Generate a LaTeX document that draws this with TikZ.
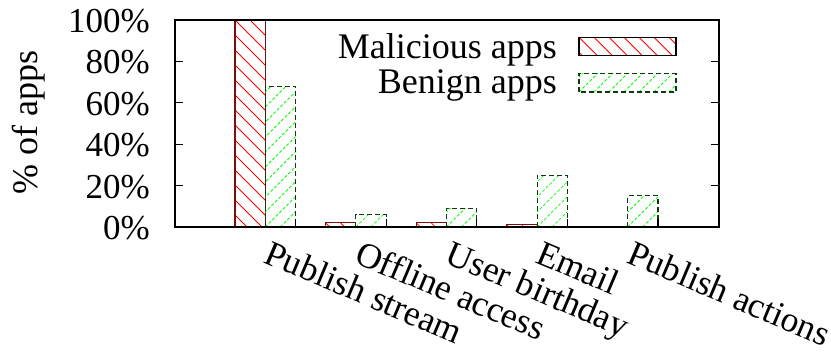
\documentclass[tikz,border=0pt]{standalone}
\usepackage{fontspec}
\setmainfont{Liberation Serif}
\definecolor{malborder}{RGB}{120,16,16}
\definecolor{benborder}{RGB}{12,60,12}
\definecolor{hatchgreen}{RGB}{0,255,0}
\tikzset{
  malhatch/.style={red,line width=0.8pt},
  benhatch/.style={hatchgreen,line width=0.8pt,dash pattern=on 3pt off 2pt},
  malframe/.style={malborder,line width=1.1pt},
  malkey/.style={black,line width=1.1pt},
  benframe/.style={benborder,line width=1.1pt,dash pattern=on 5pt off 3pt},
  axisframe/.style={black,line width=1.4pt},
  tickline/.style={black,line width=1.1pt},
  numlbl/.style={inner sep=0pt,font=\fontsize{35}{40}\selectfont},
  lbl/.style={inner sep=0pt,font=\fontsize{36}{40}\selectfont},
  catlbl/.style={inner sep=0pt,font=\fontsize{35.5}{40}\selectfont,rotate=-23,anchor=base west},
}
\newcommand\malbar[5]{%
  \begin{scope}
    \clip (#1,#2) rectangle (#3,#4);
    \foreach \k in {-15,...,8} \draw[malhatch] ({#1+\k*15},#4) -- ++(250,-250);
  \end{scope}
  \draw[#5] (#1,#2) rectangle (#3,#4);
}
\newcommand\benbar[5]{%
  \begin{scope}
    \clip (#1,#2) rectangle (#3,#4);
    \foreach \k in {-15,...,8} \draw[benhatch] ({#1+\k*15},#2) -- ++(250,250);
  \end{scope}
  \draw[#5] (#1,#2) rectangle (#3,#4);
}
\begin{document}
\begin{tikzpicture}[x=1pt,y=1pt]
\useasboundingbox (0,0) rectangle (831,356);
% bars
\foreach \g/\m/\b in {0/100/68, 1/2/6, 2/2/9, 3/1/25, 4/0/15} {
  \pgfmathsetmacro\xa{235+90.6*\g}
  \pgfmathsetmacro\xb{\xa+30.3}
  \pgfmathsetmacro\xc{\xb+30.3}
  \pgfmathsetmacro\ym{129+2.07*\m}
  \pgfmathsetmacro\yb{129+2.07*\b}
  \ifnum\m>0 \malbar{\xa}{129}{\xb}{\ym}{malframe}\fi
  \benbar{\xb}{129}{\xc}{\yb}{benframe}
}
% frame
\draw[axisframe] (175,129) rectangle (719,336);
% y ticks
\foreach \v in {20,40,60,80} {
  \pgfmathsetmacro\yy{129+2.07*\v}
  \draw[tickline] (175,\yy) -- (183,\yy);
  \draw[tickline] (719,\yy) -- (711,\yy);
}
% x ticks
\foreach \k in {0,...,4} {
  \pgfmathsetmacro\xx{295.6+90.6*\k}
  \draw[tickline] (\xx,129) -- (\xx,137);
}
% y tick labels
\node[numlbl,anchor=base east] (y0) at (150,116.5) {0\%};
\node[numlbl,anchor=base east] (y20) at (150,157.9) {20\%};
\node[numlbl,anchor=base east] (y40) at (150,199.3) {40\%};
\node[numlbl,anchor=base east] (y60) at (150,240.7) {60\%};
\node[numlbl,anchor=base east] (y80) at (150,282.1) {80\%};
\node[numlbl,anchor=base east] (y100) at (150,323.5) {100\%};
% y axis title
\node[lbl,rotate=90,anchor=base] (ytitle) at (37,233.5) {\% of apps};
% x labels
\node[catlbl] (x0) at (262.6,94) {Publish stream};
\node[catlbl] (x1) at (353.2,94) {Offline access};
\node[catlbl] (x2) at (443.8,94) {User birthday};
\node[catlbl] (x3) at (534.4,94) {Email};
\node[catlbl] (x4) at (625.0,94) {Publish actions};
% legend
\node[lbl,anchor=base east] (kmal) at (557,297) {Malicious apps};
\node[lbl,anchor=base east] (kben) at (557,262) {Benign apps};
\malbar{579}{300.7}{676}{318.7}{malkey}
\benbar{579}{264}{676}{282.7}{benframe}
\end{tikzpicture}
\end{document}
